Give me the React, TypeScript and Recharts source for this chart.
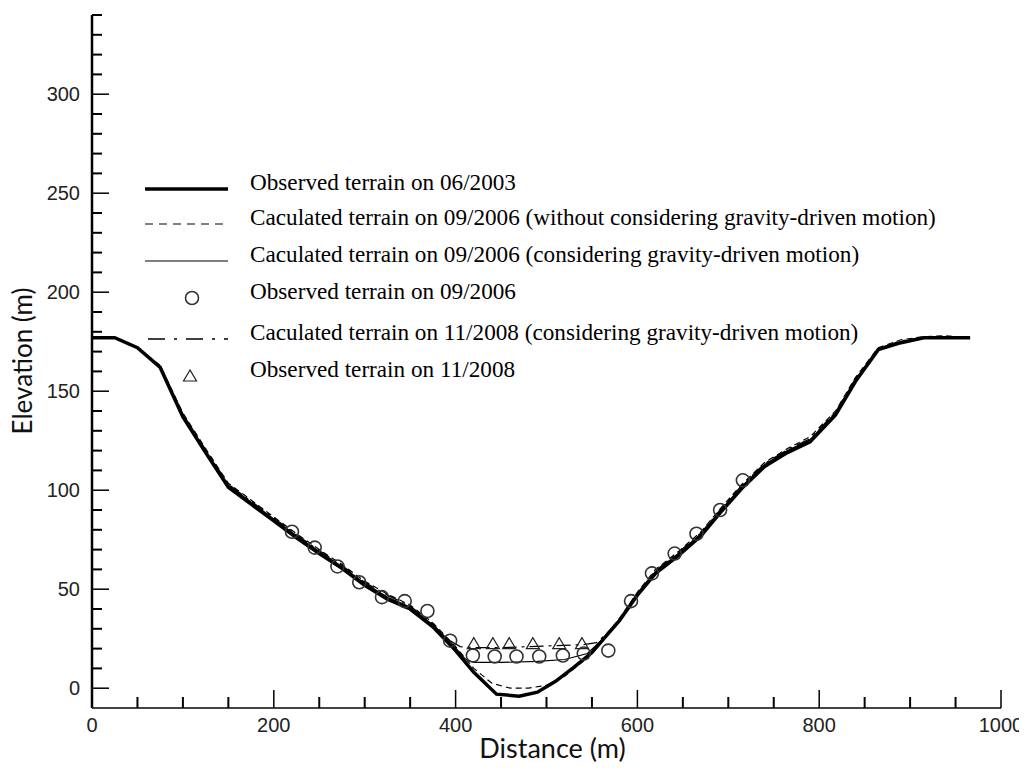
import React from 'react';
import { ComposedChart, Line, Scatter, XAxis, YAxis, Legend } from 'recharts';

// Observed terrain on 06/2003 (thick solid)
const obs2003X = [0, 25, 50, 75, 100, 125, 150, 175, 200, 225, 250, 275, 300, 325, 350, 375, 400, 420, 445, 470, 490, 510, 530, 550, 565, 580, 600, 620, 645, 670, 690, 715, 740, 765, 790, 818, 840, 865, 890, 915, 966];
const obs2003Y = [177, 177, 172, 162, 137, 119, 101.5, 93, 84.5, 76, 68, 60.5, 52, 45, 40, 31, 19, 8, -3, -4, -2, 3.5, 10.5, 18, 26, 34, 47, 58, 67, 77, 88, 101, 112, 119, 124.5, 138, 155, 171, 174.5, 177, 177];

// Caculated terrain on 09/2006 (without gravity-driven motion) (dashed)
const calcNoGravX = [0, 25, 50, 75, 100, 125, 150, 175, 200, 225, 250, 275, 300, 325, 350, 375, 400, 420, 440, 460, 480, 500, 520, 540, 560, 580, 600, 620, 645, 670, 690, 715, 740, 765, 790, 818, 840, 865, 890, 915, 940, 966];
const calcNoGravY = [177, 177, 172, 163, 139, 121, 103.5, 95, 86.5, 78, 70, 62.5, 54, 47.5, 42, 33, 21, 10, 2.5, 0, 0, 1.5, 6, 13.5, 24, 35, 48.5, 60, 69, 79, 90, 103, 114, 121, 127, 140, 157, 172, 176, 177.5, 178, 177];

// Caculated terrain on 09/2006 (considering gravity-driven motion) (thin solid)
const calcGrav06X = [0, 25, 50, 75, 100, 125, 150, 175, 200, 225, 250, 275, 300, 325, 350, 375, 395, 410, 420, 450, 490, 520, 545, 560, 570, 580, 600, 620, 645, 670, 690, 715, 740, 765, 790, 818, 840, 865, 890, 915, 966];
const calcGrav06Y = [177, 177, 172, 162, 138, 120, 102.5, 94, 85.5, 77, 69, 61.5, 53, 46, 41, 32, 23, 15, 13, 13, 13.5, 14.5, 17.5, 24, 29, 34.5, 47.5, 59, 68, 78, 89, 102, 113, 120, 125.5, 139, 156, 171, 175, 177, 177];

// Caculated terrain on 11/2008 (considering gravity-driven motion) (dash-dot)
const calcGrav08X = [0, 25, 50, 75, 100, 125, 150, 175, 200, 225, 250, 275, 300, 325, 350, 375, 390, 405, 420, 450, 480, 510, 540, 555, 565, 580, 600, 620, 645, 670, 690, 715, 740, 765, 790, 818, 840, 865, 890, 915, 966];
const calcGrav08Y = [177, 177, 172, 162.5, 138.5, 120.5, 103, 94.5, 86, 77.5, 69.5, 62, 53.5, 47, 41.5, 32.5, 25, 21, 20.5, 20.5, 21, 21.5, 22, 23, 27, 34.5, 48, 59.5, 68.5, 78.5, 89.5, 102.5, 113.5, 120.5, 126, 139.5, 156.5, 171.5, 175.5, 177, 177];

// Observed terrain on 09/2006 (circles)
const obs2006X = [220, 245, 270, 294, 319, 344, 369, 394, 419, 443, 467, 492, 518, 541, 568, 593, 616, 641, 665, 691, 716];
const obs2006Y = [79, 71, 61.5, 53.5, 46, 44, 39, 24, 16.5, 16, 16, 16, 16.5, 17.5, 19, 44, 58, 68, 78, 90, 105];

// Observed terrain on 11/2008 (triangles)
const obs2008X = [420, 441, 459, 485, 514, 539];
const obs2008Y = [22.5, 22.5, 22.5, 22.5, 22.5, 22.5];

const xTicks = [0, 50, 100, 150, 200, 250, 300, 350, 400, 450, 500, 550, 600, 650, 700, 750, 800, 850, 900, 950, 1000];
const yTicks = [0, 10, 20, 30, 40, 50, 60, 70, 80, 90, 100, 110, 120, 130, 140, 150, 160, 170, 180, 190, 200, 210, 220, 230, 240, 250, 260, 270, 280, 290, 300, 310, 320, 330, 340];

const legendLabels = [
  'Observed terrain on 06/2003',
  'Caculated terrain on 09/2006 (without considering gravity-driven motion)',
  'Caculated terrain on 09/2006 (considering gravity-driven motion)',
  'Observed terrain on 09/2006',
  'Caculated terrain on 11/2008 (considering gravity-driven motion)',
  'Observed terrain on 11/2008',
];

const toPts = (xs: number[], ys: number[]) => xs.map((x, i) => ({ x, y: ys[i] }));

const dObs2003 = toPts(obs2003X, obs2003Y);
const dNoGrav = toPts(calcNoGravX, calcNoGravY);
const dGrav06 = toPts(calcGrav06X, calcGrav06Y);
const dGrav08 = toPts(calcGrav08X, calcGrav08Y);
const dObs2006 = toPts(obs2006X, obs2006Y);
const dObs2008 = toPts(obs2008X, obs2008Y);

const tickFont = "'Liberation Sans', Arial, sans-serif";
const titleFont = "Lato, 'Open Sans', sans-serif";
const serifFont = "'Liberation Serif', 'Times New Roman', serif";

const XTick = (props: any) => {
  const { x, y, payload } = props;
  const v = payload.value;
  const major = v % 200 === 0;
  return (
    <g>
      {v !== 0 && (
        <line x1={x} x2={x} y1={y} y2={y - (major ? 18 : 11)} stroke="#000" strokeWidth={major ? 1.5 : 2} />
      )}
      {major && (
        <text x={x} y={y + 24} textAnchor="middle" fontSize={20} fontFamily={tickFont} fill="#222">
          {v}
        </text>
      )}
    </g>
  );
};

const YTick = (props: any) => {
  const { x, y, payload } = props;
  const v = payload.value;
  const major = v % 50 === 0;
  return (
    <g>
      <line x1={x} x2={x + (major ? 17 : 10)} y1={y} y2={y} stroke="#000" strokeWidth={major ? 1.5 : 2} />
      {major && (
        <text x={x - 12} y={y + 7} textAnchor="end" fontSize={20} fontFamily={tickFont} fill="#222">
          {v}
        </text>
      )}
    </g>
  );
};

const XTitle = (props: any) => {
  const vb = props.viewBox || { x: 84, y: 700, width: 909 };
  return (
    <text x={vb.x + vb.width / 2 + 6} y={vb.y + 50} textAnchor="middle" fontSize={27} fontFamily={titleFont} fill="#111">
      Distance (m)
    </text>
  );
};

const YTitle = () => (
  <g transform="translate(24, 353) rotate(-90)">
    <text x={0} y={0} textAnchor="middle" fontSize={26} fontFamily={titleFont} fill="#111">
      Elevation (m)
    </text>
  </g>
);

const CircleShape = (props: any) => {
  const { cx, cy } = props;
  return <circle cx={cx} cy={cy} r={6.5} fill="none" stroke="#333" strokeWidth={1.6} />;
};

const TriangleShape = (props: any) => {
  const { cx, cy } = props;
  return (
    <polygon
      points={`${cx},${cy - 6} ${cx - 6.5},${cy + 5} ${cx + 6.5},${cy + 5}`}
      fill="none"
      stroke="#222"
      strokeWidth={1.2}
    />
  );
};

const rowY = [24, 59, 96, 133, 174, 211];

const LegendBox = () => {
  const lx1 = 8;
  const lx2 = 91;
  const tx = 113;
  return (
    <svg width={830} height={230} style={{ display: 'block' }}>
      <line x1={lx1} x2={lx2} y1={rowY[0]} y2={rowY[0]} stroke="#000" strokeWidth={3.5} />
      <line x1={lx1} x2={lx2} y1={rowY[1]} y2={rowY[1]} stroke="#000" strokeWidth={1.2} strokeDasharray="8 6" />
      <line x1={lx1} x2={lx2} y1={rowY[2]} y2={rowY[2]} stroke="#000" strokeWidth={1.2} />
      <circle cx={55} cy={rowY[3]} r={6.5} fill="none" stroke="#333" strokeWidth={1.6} />
      <line x1={lx1 + 3} x2={lx2} y1={rowY[4]} y2={rowY[4]} stroke="#000" strokeWidth={1.4} strokeDasharray="17 9 3 9" />
      <polygon
        points={`53,${rowY[5] - 6} 46.5,${rowY[5] + 5} 59.5,${rowY[5] + 5}`}
        fill="none"
        stroke="#222"
        strokeWidth={1.2}
      />
      {legendLabels.map((t, i) => (
        <text key={i} x={tx} y={rowY[i] + 1} fontSize={23.2} fontFamily={serifFont} fill="#000">
          {t}
        </text>
      ))}
    </svg>
  );
};

export default function App() {
  return (
    <ComposedChart
      width={1019}
      height={760}
      margin={{ top: 7, right: 26, left: 0, bottom: 20 }}
    >
      <XAxis
        type="number"
        dataKey="x"
        domain={[0, 1000]}
        ticks={xTicks}
        interval={0}
        allowDataOverflow
        tickSize={0}
        tickMargin={0}
        tickLine={false}
        tick={<XTick />}
        axisLine={{ stroke: '#444', strokeWidth: 2 }}
        height={40}
        label={<XTitle />}
      />
      <YAxis
        type="number"
        dataKey="y"
        domain={[-10, 340]}
        ticks={yTicks}
        interval={0}
        allowDataOverflow
        tickSize={0}
        tickMargin={0}
        tickLine={false}
        tick={<YTick />}
        axisLine={{ stroke: '#000', strokeWidth: 2.5 }}
        width={84}
        label={<YTitle />}
      />
      <Legend
        layout="horizontal"
        verticalAlign="middle"
        align="center"
        content={() => <LegendBox />}
        wrapperStyle={{ left: 129, top: 157, width: 830, height: 230 }}
      />
      <Line data={dNoGrav} dataKey="y" type="linear" stroke="#000" strokeWidth={1.2} strokeDasharray="6 4" dot={false} activeDot={false} isAnimationActive={false} />
      <Line data={dGrav06} dataKey="y" type="linear" stroke="#000" strokeWidth={1.2} dot={false} activeDot={false} isAnimationActive={false} />
      <Line data={dGrav08} dataKey="y" type="linear" stroke="#000" strokeWidth={1.2} strokeDasharray="14 5 3 5" dot={false} activeDot={false} isAnimationActive={false} />
      <Line data={dObs2003} dataKey="y" type="linear" stroke="#000" strokeWidth={3.5} dot={false} activeDot={false} isAnimationActive={false} />
      <Scatter data={dObs2006} dataKey="y" shape={<CircleShape />} isAnimationActive={false} />
      <Scatter data={dObs2008} dataKey="y" shape={<TriangleShape />} isAnimationActive={false} />
    </ComposedChart>
  );
}
